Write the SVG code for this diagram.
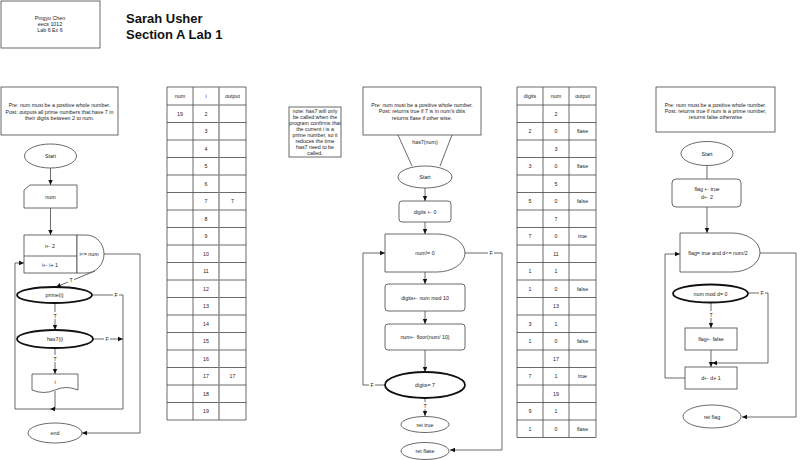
<svg xmlns="http://www.w3.org/2000/svg" width="800" height="460" viewBox="0 0 800 460">
<style>
text{font-family:"Liberation Sans",Arial,sans-serif;font-size:5.3px;fill:#222;text-anchor:middle}
.ar{font-family:"DejaVu Sans",sans-serif}
.title{font-size:13px;font-weight:bold;text-anchor:start;fill:#111}
.box{fill:#fff;stroke:#444;stroke-width:0.8}
.bold{fill:#fff;stroke:#111;stroke-width:1.8}
.ln{fill:none;stroke:#444;stroke-width:0.8}
.grid{stroke:#444;stroke-width:0.8;fill:none}
.lbl{fill:#fff;stroke:none}
</style>
<defs>
<marker id="ah" markerWidth="6" markerHeight="6" refX="5" refY="3" orient="auto" markerUnits="userSpaceOnUse">
<path d="M0,0.8 L5,3 L0,5.2 Z" fill="#111"/>
</marker>
</defs>
<rect width="800" height="460" fill="#fff"/>

<g id="header">
<rect class="box" x="1" y="1" width="99" height="47"/>
<text x="50" y="20">Pingyu Chen</text>
<text x="50" y="26">eecs 1012</text>
<text x="50" y="32">Lab 6 Ex 6</text>
<text class="title" x="126" y="23">Sarah Usher</text>
<text class="title" x="126" y="39">Section A Lab 1</text>
</g>

<g id="connectors">
<path class="ln" d="M50.5,168 V185" marker-end="url(#ah)"/>
<path class="ln" d="M50.5,208 V235" marker-end="url(#ah)"/>
<path class="ln" d="M104,254 H140 V433 H82" marker-end="url(#ah)"/>
<path class="ln" d="M95,271 L56,287" marker-end="url(#ah)"/>
<path class="ln" d="M92,295 H123 V409"/>
<path class="ln" d="M55,303 V330" marker-end="url(#ah)"/>
<path class="ln" d="M93,339 H123" marker-end="url(#ah)"/>
<path class="ln" d="M55,348 V374" marker-end="url(#ah)"/>
<path class="ln" d="M55,391 V409"/>
<path class="ln" d="M123,409 H50" marker-end="url(#ah)"/>
<path class="ln" d="M50,409 H15 V263 H24" marker-end="url(#ah)"/>
<path class="ln" d="M398,135 L412,166 M452,135 L440,166"/>
<path class="ln" d="M425,188 V201" marker-end="url(#ah)"/>
<path class="ln" d="M425,222 V234" marker-end="url(#ah)"/>
<path class="ln" d="M465,253 H502 V450 H450" marker-end="url(#ah)"/>
<path class="ln" d="M385,385 H363 V253 H385" marker-end="url(#ah)"/>
<path class="ln" d="M425,272 V284" marker-end="url(#ah)"/>
<path class="ln" d="M425,311 V324" marker-end="url(#ah)"/>
<path class="ln" d="M425,350 V372" marker-end="url(#ah)"/>
<path class="ln" d="M425,398 V416" marker-end="url(#ah)"/>
<path class="ln" d="M707,166 V179"/>
<path class="ln" d="M707,207 V233" marker-end="url(#ah)"/>
<path class="ln" d="M685,378 H665 V254 H680" marker-end="url(#ah)"/>
<path class="ln" d="M760,253 H796 V417 H742" marker-end="url(#ah)"/>
<path class="ln" d="M748,293 H768 V363 H712" marker-end="url(#ah)"/>
<path class="ln" d="M711,302 V328" marker-end="url(#ah)"/>
<path class="ln" d="M711,350 V367" marker-end="url(#ah)"/>
<rect class="lbl" x="68" y="276" width="6" height="7"/><text x="71" y="281.5">T</text>
<rect class="lbl" x="113" y="291" width="6" height="7"/><text x="116" y="297">F</text>
<rect class="lbl" x="52" y="312" width="6" height="7"/><text x="55" y="317.5">T</text>
<rect class="lbl" x="104" y="335" width="6" height="7"/><text x="107" y="341">F</text>
<rect class="lbl" x="52" y="355" width="6" height="7"/><text x="55" y="360.5">T</text>
<rect class="lbl" x="488" y="249" width="6" height="7"/><text x="491" y="255">F</text>
<rect class="lbl" x="369" y="381" width="6" height="7"/><text x="372" y="387">F</text>
<rect class="lbl" x="422" y="402" width="6" height="7"/><text x="425" y="407.5">T</text>
<rect class="lbl" x="759" y="289" width="6" height="7"/><text x="762" y="295">F</text>
<rect class="lbl" x="708" y="311" width="6" height="7"/><text x="711" y="316.5">T</text>
</g>

<g id="left-pre">
<rect class="box" x="1" y="87" width="117" height="48"/>
<text x="59.5" y="107">Pre: num must be a positive whole number.</text>
<text x="59.5" y="113.5">Post: outputs all prime numbers that have 7 in</text>
<text x="59.5" y="120">their digits between 2 to num.</text>
</g>
<g id="left-start"><ellipse class="box" cx="50.5" cy="156" rx="26" ry="12"/><text x="50.5" y="158">Start</text></g>
<g id="left-num"><path class="box" d="M24,190 L30,185 H77 V208 H24 Z"/><text x="50.5" y="198.5">num</text></g>
<g id="left-loop">
<rect class="box" x="24" y="235" width="53" height="38"/>
<path class="ln" d="M24,256 H77"/>
<path class="box" d="M77,235 H86 A18,19 0 0 1 86,273 H77 Z"/>
<text x="50" y="248">i<tspan class="ar">←</tspan> 2</text>
<text x="50" y="267">i<tspan class="ar">←</tspan> i+ 1</text>
<text x="89" y="256">i&lt;= num</text>
</g>
<g id="left-prime"><ellipse class="bold" cx="54.5" cy="295" rx="37.5" ry="8"/><text x="54.5" y="297">prime(i)</text></g>
<g id="left-has7"><ellipse class="bold" cx="55" cy="339" rx="38" ry="9"/><text x="55" y="341">has7(i)</text></g>
<g id="left-output"><path class="box" d="M32,374 H78 V390 Q66,385 55,390 Q44,395 32,390 Z"/><text x="55" y="384">i</text></g>
<g id="left-end"><ellipse class="box" cx="55" cy="433" rx="27" ry="10"/><text x="55" y="435">end</text></g>

<g id="table1">
<rect fill="#fff" x="167" y="87" width="79" height="333"/>
<path class="grid" d="M167,87 H246 M167,105 H246 M167,122.5 H246 M167,140 H246 M167,157.5 H246 M167,175 H246 M167,192.5 H246 M167,210 H246 M167,227.5 H246 M167,245 H246 M167,262.5 H246 M167,280 H246 M167,297.5 H246 M167,315 H246 M167,332.5 H246 M167,350 H246 M167,367.5 H246 M167,385 H246 M167,402.5 H246 M167,420 H246 M167,87 V420 M193,87 V420 M246,87 V420"/>
<path d="M219,87 V420" stroke="#888" stroke-width="1.4"/>
<text x="180" y="98">num</text><text x="206" y="98">i</text><text x="232.5" y="98">output</text>
<text x="180" y="115.7">19</text>
<text x="206" y="115.7">2</text><text x="206" y="133.2">3</text><text x="206" y="150.7">4</text><text x="206" y="168.2">5</text><text x="206" y="185.7">6</text><text x="206" y="203.2">7</text><text x="206" y="220.7">8</text><text x="206" y="238.2">9</text><text x="206" y="255.7">10</text><text x="206" y="273.2">11</text><text x="206" y="290.7">12</text><text x="206" y="308.2">13</text><text x="206" y="325.7">14</text><text x="206" y="343.2">15</text><text x="206" y="360.7">16</text><text x="206" y="378.2">17</text><text x="206" y="395.7">18</text><text x="206" y="413.2">19</text>
<text x="232.5" y="203.2">7</text><text x="232.5" y="378.2">17</text>
</g>

<g id="note">
<rect class="box" x="289" y="107" width="52" height="50"/>
<text x="315" y="113">note: has7 will only</text>
<text x="315" y="119">be called when the</text>
<text x="315" y="125">program confirms that</text>
<text x="315" y="131">the current i is a</text>
<text x="315" y="137">prime number, so it</text>
<text x="315" y="143">reduces the time</text>
<text x="315" y="149">has7 need to be</text>
<text x="315" y="155">called.</text>
</g>

<g id="mid-pre">
<rect class="box" x="363" y="87" width="118" height="48"/>
<text x="422" y="107">Pre: num must be a positive whole number.</text>
<text x="422" y="113">Post: returns true if 7 is in num's ditis</text>
<text x="422" y="119.5">returns flase if other wise.</text>
<text x="425" y="144">has7(num)</text>
</g>
<g id="mid-start"><ellipse class="box" cx="425" cy="177" rx="27" ry="11"/><text x="425" y="179">Start</text></g>
<g id="mid-digits0"><rect class="box" x="399" y="201" width="52" height="21" rx="3"/><text x="425" y="213.5">digits <tspan class="ar">←</tspan> 0</text></g>
<g id="mid-while"><path class="box" d="M385,234 H437 A28,19 0 0 1 437,272 H385 Z"/><text x="425" y="255">num!= 0</text></g>
<g id="mid-mod"><rect class="box" x="385" y="284" width="80" height="27" rx="3"/><text x="425" y="299.5">digits<tspan class="ar">←</tspan> num mod 10</text></g>
<g id="mid-floor"><rect class="box" x="385" y="324" width="80" height="26" rx="3"/><text x="425" y="339">num<tspan class="ar">←</tspan> floor(num/ 10)</text></g>
<g id="mid-is7"><ellipse class="bold" cx="425" cy="385" rx="40" ry="13"/><text x="425" y="387">digits= 7</text></g>
<g id="mid-rettrue"><ellipse class="box" cx="425" cy="424.5" rx="24" ry="8"/><text x="425" y="426.5">ret true</text></g>
<g id="mid-retfalse"><ellipse class="box" cx="425" cy="451" rx="24" ry="8.5"/><text x="425" y="453">ret flase</text></g>

<g id="table2">
<rect fill="#fff" x="517" y="87" width="79" height="350.5"/>
<path class="grid" d="M517,87 H596 M517,105 H596 M517,122.5 H596 M517,140 H596 M517,157.5 H596 M517,175 H596 M517,192.5 H596 M517,210 H596 M517,227.5 H596 M517,245 H596 M517,262.5 H596 M517,280 H596 M517,297.5 H596 M517,315 H596 M517,332.5 H596 M517,350 H596 M517,367.5 H596 M517,385 H596 M517,402.5 H596 M517,420 H596 M517,437.5 H596 M517,87 V437.5 M543,87 V437.5 M569,87 V437.5 M596,87 V437.5"/>
<text x="530" y="98">digits</text><text x="556" y="98">num</text><text x="582.5" y="98">output</text>
<text x="556" y="115.7">2</text>
<text x="530" y="133.2">2</text><text x="556" y="133.2">0</text><text x="582.5" y="133.2">flase</text>
<text x="556" y="150.7">3</text>
<text x="530" y="168.2">3</text><text x="556" y="168.2">0</text><text x="582.5" y="168.2">flase</text>
<text x="556" y="185.7">5</text>
<text x="530" y="203.2">5</text><text x="556" y="203.2">0</text><text x="582.5" y="203.2">false</text>
<text x="556" y="220.7">7</text>
<text x="530" y="238.2">7</text><text x="556" y="238.2">0</text><text x="582.5" y="238.2">true</text>
<text x="556" y="255.7">11</text>
<text x="530" y="273.2">1</text><text x="556" y="273.2">1</text>
<text x="530" y="290.7">1</text><text x="556" y="290.7">0</text><text x="582.5" y="290.7">false</text>
<text x="556" y="308.2">13</text>
<text x="530" y="325.7">3</text><text x="556" y="325.7">1</text>
<text x="530" y="343.2">1</text><text x="556" y="343.2">0</text><text x="582.5" y="343.2">false</text>
<text x="556" y="360.7">17</text>
<text x="530" y="378.2">7</text><text x="556" y="378.2">1</text><text x="582.5" y="378.2">true</text>
<text x="556" y="395.7">19</text>
<text x="530" y="413.2">9</text><text x="556" y="413.2">1</text>
<text x="530" y="430.7">1</text><text x="556" y="430.7">0</text><text x="582.5" y="430.7">flase</text>
</g>

<g id="right-pre">
<rect class="box" x="656" y="87" width="119" height="45"/>
<text x="715.5" y="107">Pre: num must be a positive whole number.</text>
<text x="715.5" y="113">Post: returns true if num is a prime number,</text>
<text x="715.5" y="119">returns false otherwise</text>
</g>
<g id="right-start"><ellipse class="box" cx="707" cy="153.5" rx="26" ry="12"/><text x="707" y="155.5">Start</text></g>
<g id="right-init"><rect class="box" x="672" y="179" width="69" height="28" rx="4"/><text x="707" y="191">flag <tspan class="ar">←</tspan> true</text><text x="707" y="198.5">d<tspan class="ar">←</tspan> 2</text></g>
<g id="right-while"><path class="box" d="M680,233 H732 A28,19.5 0 0 1 732,272 H680 Z"/><text x="718" y="255">flag= true and d&lt;= num/2</text></g>
<g id="right-mod"><ellipse class="bold" cx="710.5" cy="293.5" rx="37.5" ry="9"/><text x="710.5" y="295.5">num mod d= 0</text></g>
<g id="right-false"><rect class="box" x="685" y="328" width="52" height="22"/><text x="711" y="341">flag<tspan class="ar">←</tspan> false</text></g>
<g id="right-inc"><rect class="box" x="685" y="367" width="52" height="22"/><text x="711" y="380">d<tspan class="ar">←</tspan> d+ 1</text></g>
<g id="right-ret"><ellipse class="box" cx="712" cy="416.5" rx="29" ry="11.5"/><text x="712" y="418.5">ret flag</text></g>
</svg>
